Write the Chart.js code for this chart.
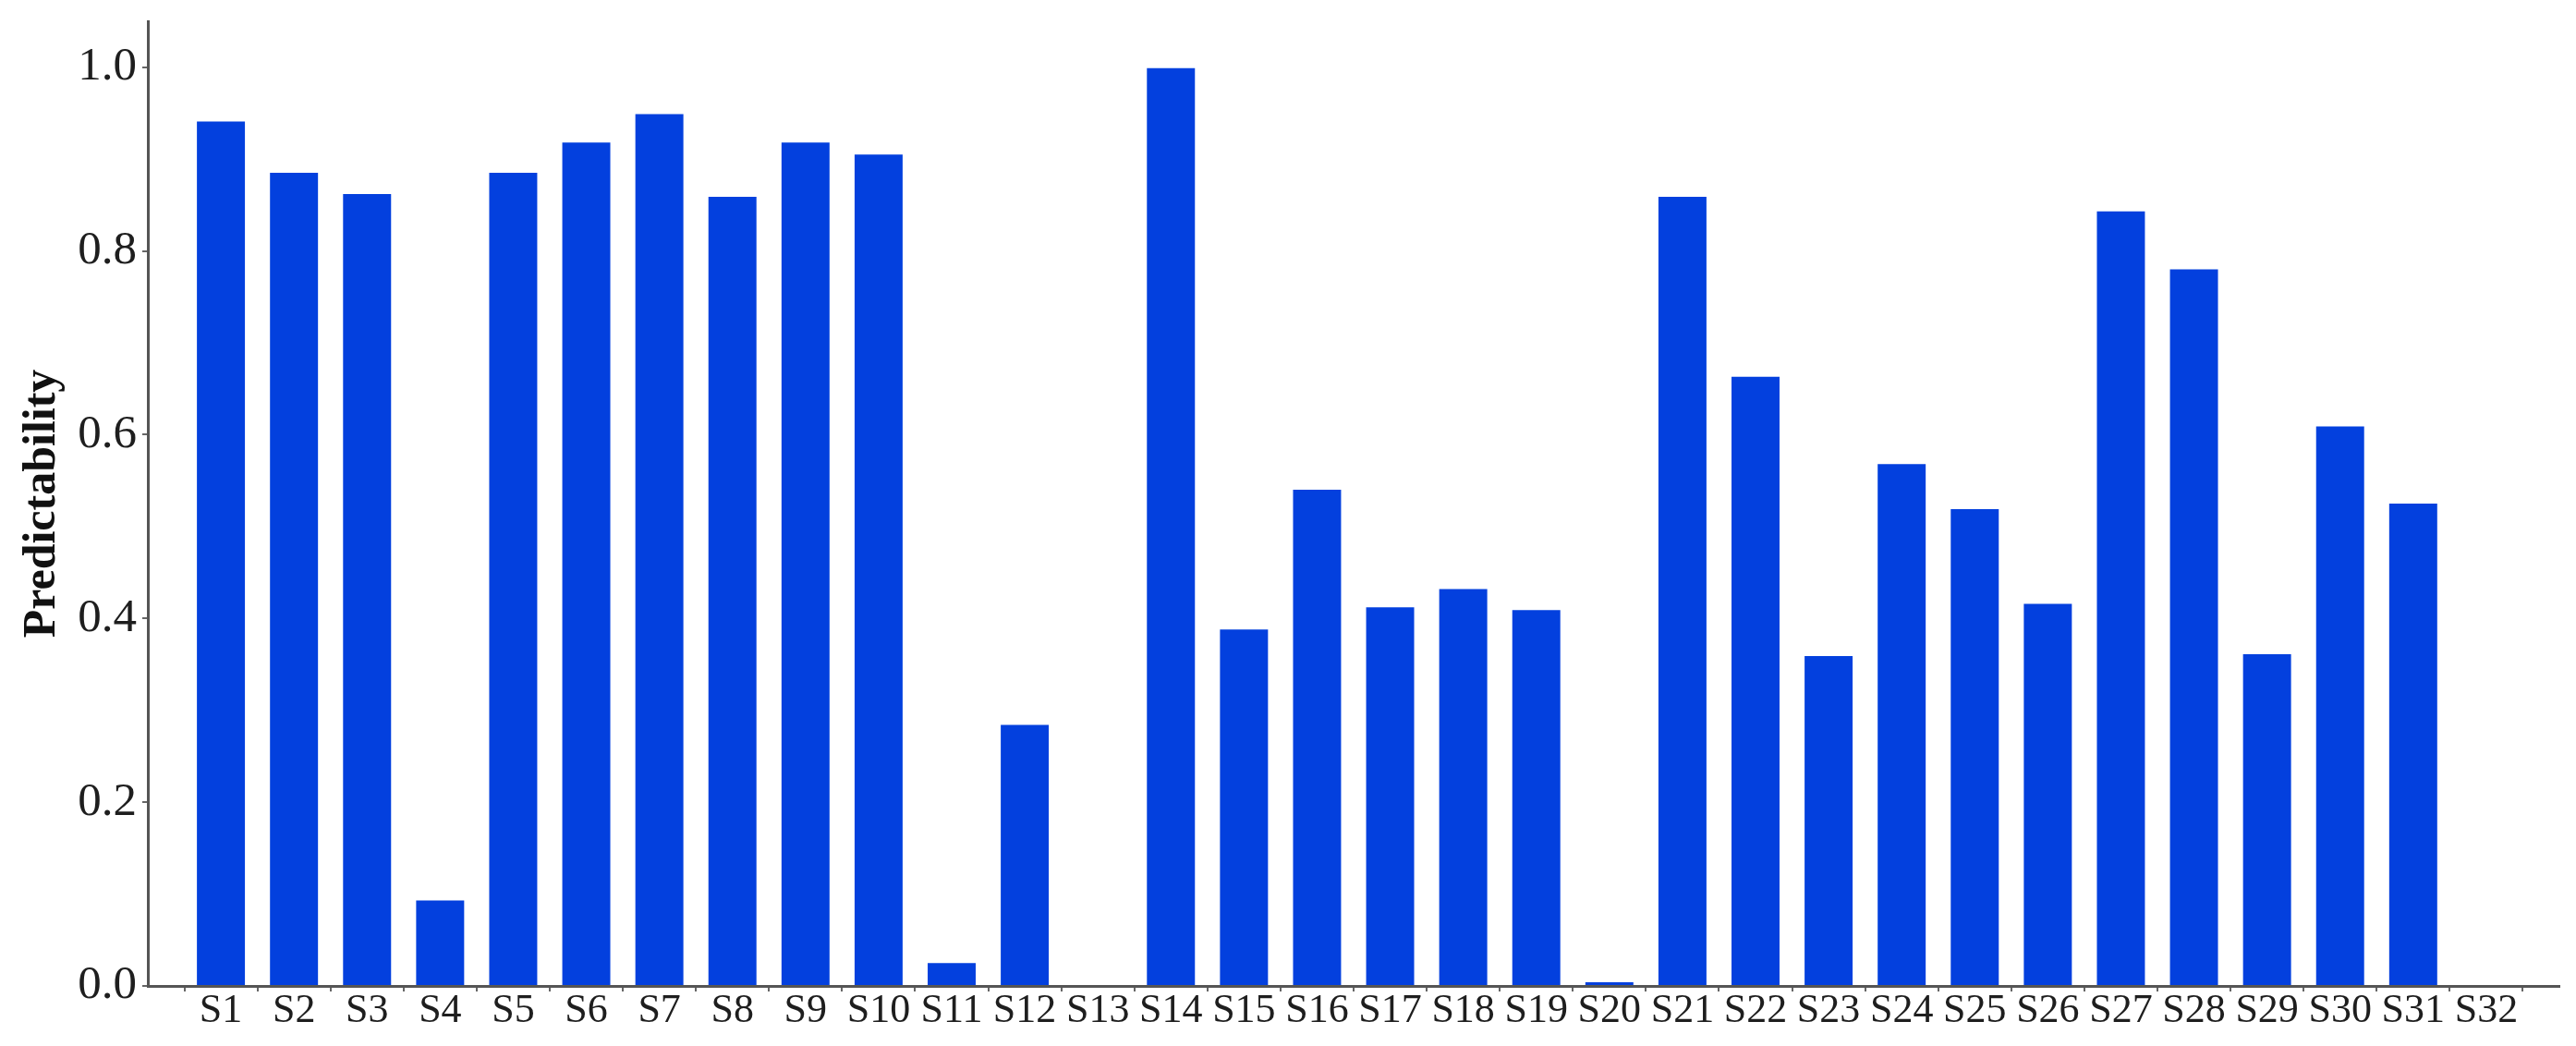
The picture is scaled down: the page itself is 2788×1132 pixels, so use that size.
<!DOCTYPE html>
<html>
<head>
<meta charset="utf-8">
<script src="https://cdn.jsdelivr.net/npm/chart.js@4/dist/chart.umd.min.js"></script>
<style>
  html, body { margin: 0; padding: 0; background: #ffffff; }
  #wrap { width: 2788px; height: 1132px; }
</style>
</head>
<body>
<div id="wrap"><canvas id="c" width="2788" height="1132"></canvas></div>
<script>
const categories = ['S1','S2','S3','S4','S5','S6','S7','S8','S9','S10','S11','S12','S13','S14','S15','S16',
                    'S17','S18','S19','S20','S21','S22','S23','S24','S25','S26','S27','S28','S29','S30','S31','S32'];
const predictability = [0.941, 0.885, 0.862, 0.093, 0.885, 0.918, 0.949, 0.859, 0.918, 0.905, 0.025, 0.284, 0,
                        0.999, 0.388, 0.540, 0.412, 0.432, 0.409, 0.004, 0.859, 0.663, 0.359, 0.568, 0.519,
                        0.416, 0.843, 0.780, 0.361, 0.609, 0.525, 0];
const yTicks = [0, 0.2, 0.4, 0.6, 0.8, 1.0];
const yTitle = 'Predictability';

// pad with empty slots at both ends (axis runs from 0 to 33)
const labels = [''].concat(categories, ['']);
const values = [null].concat(predictability, [null]);

const serif = "'Liberation Serif', 'Times New Roman', serif";

new Chart(document.getElementById('c'), {
  type: 'bar',
  data: {
    labels: labels,
    datasets: [{
      data: values,
      backgroundColor: '#0340de',
      borderWidth: 0,
      barPercentage: 0.657,
      categoryPercentage: 1.0
    }]
  },
  options: {
    responsive: false,
    animation: false,
    events: [],
    layout: { padding: { top: 23, right: 18, left: 0, bottom: 0 } },
    plugins: { legend: { display: false }, tooltip: { enabled: false } },
    scales: {
      x: {
        type: 'category',
        offset: false,
        grid: { display: true, drawOnChartArea: false, drawTicks: true, tickLength: 6, tickColor: '#666', lineWidth: 2 },
        border: { display: true, color: '#555', width: 3 },
        ticks: {
          autoSkip: false,
          maxRotation: 0,
          minRotation: 0,
          padding: -5,
          color: '#1e1e1e',
          font: { family: serif, size: 44 }
        },
        afterFit: (s) => { s.height = 65; s.paddingLeft = 0; s.paddingRight = 0; }
      },
      y: {
        min: 0,
        max: 1.05,
        grid: { display: true, drawOnChartArea: false, drawTicks: true, tickLength: 6, tickColor: '#666', lineWidth: 2 },
        border: { display: true, color: '#555', width: 3 },
        afterBuildTicks: (s) => { s.ticks = yTicks.map(v => ({ value: v })); },
        ticks: {
          padding: 6,
          color: '#1e1e1e',
          font: { family: serif, size: 51 },
          callback: (v) => Number(v).toFixed(1)
        },
        title: {
          display: true,
          text: yTitle,
          color: '#111',
          font: { family: serif, size: 50, weight: 'bold' },
          padding: { top: 16, bottom: 0 }
        },
        afterFit: (s) => { s.width = 160; s.paddingTop = 0; s.paddingBottom = 0; }
      }
    }
  }
});
</script>
</body>
</html>
